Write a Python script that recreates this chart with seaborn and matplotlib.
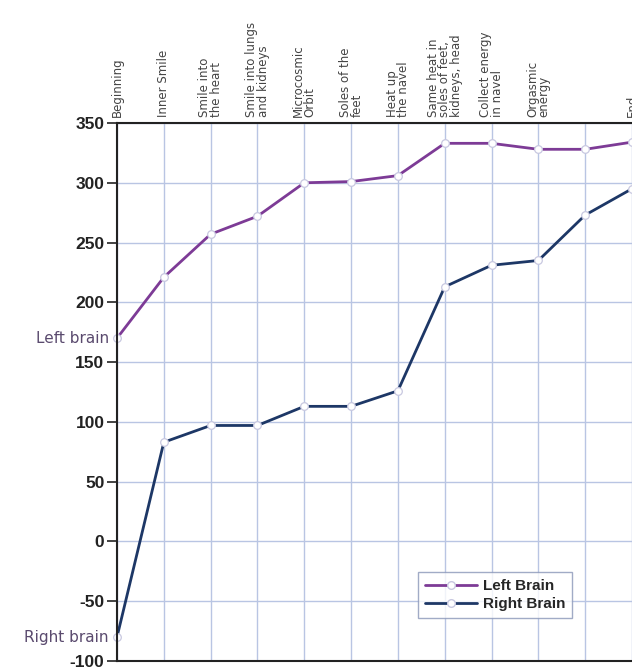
import numpy as np
import pandas as pd
import matplotlib
matplotlib.use("Agg")
import matplotlib.pyplot as plt
from matplotlib.lines import Line2D
import seaborn as sns

# Stages of the practice (top axis)
stages = [
    "Beginning",
    "Inner Smile",
    "Smile into\nthe heart",
    "Smile into lungs\nand kidneys",
    "Microcosmic\nOrbit",
    "Soles of the\nfeet",
    "Heat up\nthe navel",
    "Same heat in\nsoles of feet,\nkidneys, head",
    "Collect energy\nin navel",
    "Orgasmic\nenergy",
    "",
    "End",
]

left_brain = [170, 221, 257, 272, 300, 301, 306, 333, 333, 328, 328, 334]
right_brain = [-80, 83, 97, 97, 113, 113, 126, 213, 231, 235, 273, 295]

y_ticks = [350, 300, 250, 200, 150, 100, 50, 0, -50, -100]

pos = np.arange(len(stages))
df = pd.DataFrame({
    "pos": np.concatenate([pos, pos]),
    "value": left_brain + right_brain,
    "series": ["Left Brain"] * len(pos) + ["Right Brain"] * len(pos),
})

sns.set_style("white")
plt.rcParams["font.family"] = ["Liberation Sans", "DejaVu Sans"]

fig = plt.figure(figsize=(6.32, 6.71), dpi=100)
ax = fig.add_axes([117 / 632, 10 / 671, 515 / 632, 538 / 671])

palette = {"Left Brain": "#7d3b96", "Right Brain": "#1d3766"}
sns.lineplot(data=df, x="pos", y="value", hue="series", palette=palette,
             marker="o", markersize=5.5, markerfacecolor="white",
             markeredgewidth=0.9, linewidth=2.0, ax=ax, clip_on=False,
             legend=False)
for line in ax.lines:
    line.set_markeredgecolor("#c8c8e0")

ax.set_xlim(0, 515 / 47)
ax.set_ylim(-100, 350)
ax.set_yticks(y_ticks)
ax.set_yticklabels([str(t) for t in y_ticks], fontsize=12.5, fontweight="bold",
                   color="#222222")
ax.tick_params(axis="y", direction="out", length=7, width=1.2, pad=2,
               colors="#222222", left=True)

ax.set_xticks(pos)
ax.xaxis.tick_top()
ax.set_xticklabels(stages, rotation=90, fontsize=8.5, color="#444444",
                   linespacing=0.85, ha="center", va="bottom",
                   family=["DejaVu Sans"])
plt.setp(ax.get_xticklabels(), multialignment="left")
ax.tick_params(axis="x", length=0, pad=4)
ax.set_xlabel("")
ax.set_ylabel("")

ax.grid(True, color="#b9c5e3", linewidth=1.0)
for side in ["left", "top", "bottom"]:
    ax.spines[side].set_color("#222222")
    ax.spines[side].set_linewidth(1.5)
ax.spines["right"].set_visible(False)

for label, val in [("Left brain", left_brain[0]), ("Right brain", right_brain[0])]:
    ax.annotate(label, xy=(0, val), xytext=(-6, 0),
                textcoords="offset points", ha="right", va="center",
                fontsize=11, color="#5a4a6e", annotation_clip=False,
                family=["DejaVu Sans"])

handles = [Line2D([], [], color=palette[k], linewidth=2.0, marker="o",
                  markersize=5.5, markerfacecolor="white",
                  markeredgecolor="#c8c8e0") for k in palette]
leg = ax.legend(handles, list(palette), loc="lower left",
                bbox_to_anchor=(0.57, 0.066), frameon=True, fancybox=False,
                handlelength=3.4, borderpad=0.45, labelspacing=0.25,
                handletextpad=0.4, prop={"weight": "bold", "size": 11})
leg.get_frame().set_edgecolor("#8a96b8")
leg.get_frame().set_linewidth(1.0)

fig.savefig("out.png", dpi=100)
